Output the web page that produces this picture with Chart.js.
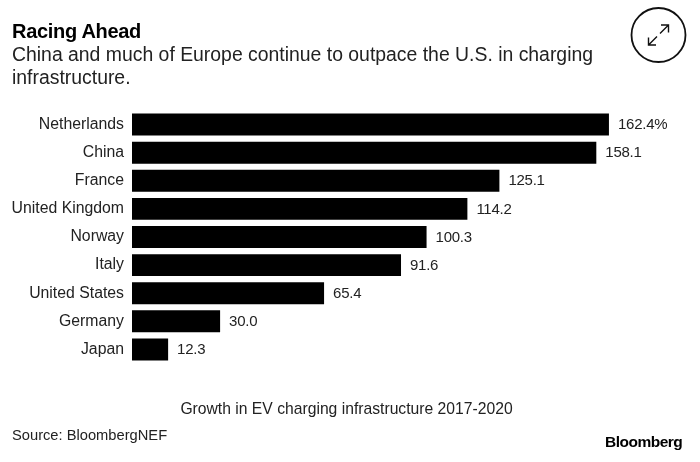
<!DOCTYPE html>
<html>
<head>
<meta charset="utf-8">
<script src="https://cdn.jsdelivr.net/npm/chart.js@4"></script>
<style>
    html, body { margin: 0; padding: 0; background: #fff; }
    #wrap { position: relative; width: 700px; height: 462px; overflow: hidden; color: #111; font-family: "Liberation Sans", Arial, sans-serif; }
    #wrap canvas { position: absolute; left: 0; top: 0; }
    .txt { position: absolute; white-space: nowrap; }
    #title { left: 12px; top: 20px; font-size: 20px; font-weight: bold; color: #000; letter-spacing: -0.3px; }
    #subtitle { left: 12px; top: 43px; font-size: 19.4px; line-height: 23px; color: #222; }
    #axisTitle { left: 0; width: 693px; text-align: center; top: 400px; font-size: 15.7px; color: #222; }
    #source { left: 12px; top: 427px; font-size: 14.7px; color: #222; }
    #logo { left: 605px; top: 433px; font-size: 15.5px; font-weight: bold; color: #000; letter-spacing: -0.5px; }
    #icon { position: absolute; left: 628px; top: 5px; }
</style>
</head>
<body>
<div id="wrap">
    <canvas id="chart" width="700" height="462"></canvas>
    <div class="txt" id="title">Racing Ahead</div>
    <div class="txt" id="subtitle">China and much of Europe continue to outpace the U.S. in charging<br>infrastructure.</div>
    <div class="txt" id="axisTitle">Growth in EV charging infrastructure 2017-2020</div>
    <div class="txt" id="source">Source: BloombergNEF</div>
    <div class="txt" id="logo">Bloomberg</div>
    <svg id="icon" width="60" height="60" viewBox="0 0 60 60" fill="none" stroke="#111">
        <circle cx="30.5" cy="30" r="27" stroke-width="1.8"/>
        <path d="M20.5 40 L29 31.5 M32 28.5 L40.5 20 M33 20 H40.5 V27.5 M20.5 32.5 V40 H28" stroke-width="1.4"/>
    </svg>
</div>
<script>
const countries = ['Netherlands', 'China', 'France', 'United Kingdom', 'Norway', 'Italy', 'United States', 'Germany', 'Japan'];
const growth = [162.4, 158.1, 125.1, 114.2, 100.3, 91.6, 65.4, 30.0, 12.3];
const valueLabels = ['162.4%', '158.1', '125.1', '114.2', '100.3', '91.6', '65.4', '30.0', '12.3'];

const barLabels = {
    id: 'barLabels',
    afterDatasetsDraw(chart) {
        const ctx = chart.ctx;
        ctx.save();
        ctx.font = '15px "Liberation Sans", Arial, sans-serif';
        ctx.letterSpacing = '-0.25px';
        ctx.fillStyle = '#222';
        ctx.textBaseline = 'middle';
        chart.getDatasetMeta(0).data.forEach((bar, i) => {
            ctx.fillText(valueLabels[i], bar.x + 9, bar.y + 0.5);
        });
        ctx.restore();
    }
};

new Chart(document.getElementById('chart').getContext('2d'), {
    type: 'bar',
    data: {
        labels: countries,
        datasets: [{
            data: growth,
            backgroundColor: '#000',
            categoryPercentage: 1,
            barPercentage: 0.78
        }]
    },
    options: {
        indexAxis: 'y',
        responsive: false,
        animation: false,
        layout: { padding: { top: 110.5, bottom: 98.5, left: 0, right: 10 } },
        plugins: { legend: { display: false }, tooltip: { enabled: false } },
        scales: {
            x: { display: false, min: 0, max: 190 },
            y: {
                afterFit: axis => { axis.width = 132; },
                grid: { display: false, drawTicks: false },
                border: { display: false },
                ticks: {
                    color: '#222',
                    padding: 8,
                    font: { family: '"Liberation Sans", Arial, sans-serif', size: 15.8 }
                }
            }
        }
    },
    plugins: [barLabels]
});
</script>
</body>
</html>
